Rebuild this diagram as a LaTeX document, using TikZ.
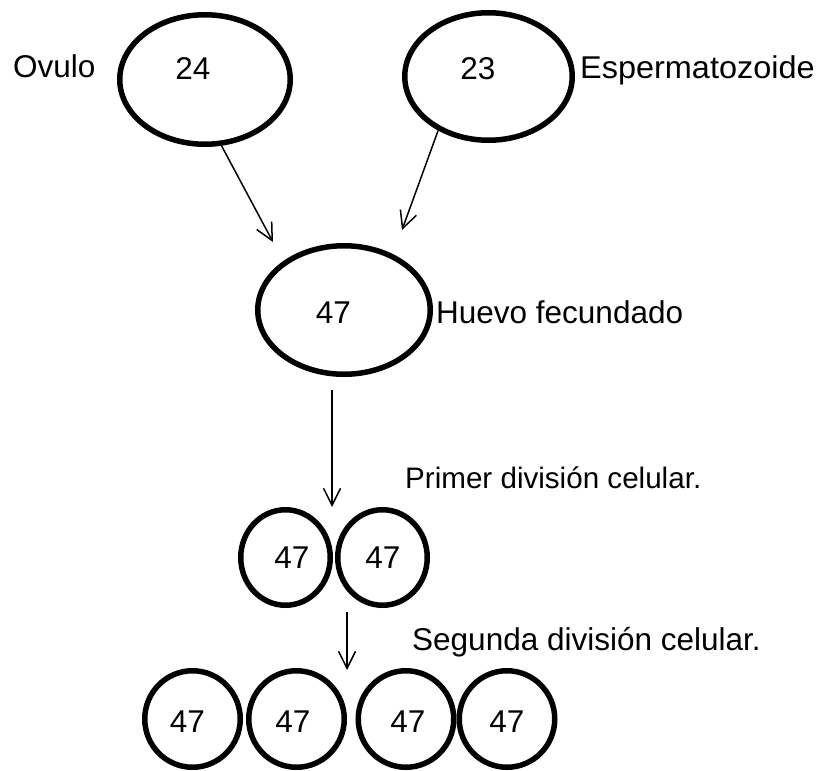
\documentclass[tikz,border=0pt]{standalone}
\usepackage{fontspec}
\setmainfont{Liberation Sans}
\usetikzlibrary{shapes.geometric,arrows.meta}
\begin{document}
\begin{tikzpicture}[x=1pt,y=-1pt,
  cell/.style={draw,ellipse,line width=5.5pt,inner sep=0pt},
  midcell/.style={cell,minimum width=89.5pt,minimum height=95.5pt},
  smallcell/.style={cell,minimum width=95.5pt,minimum height=96.5pt},
  num/.style={inner sep=0pt,font=\fontsize{31.5}{38}\selectfont},
  lbl/.style={inner sep=0pt,anchor=base west,font=\fontsize{31.5}{38}\selectfont},
  arr/.style={line width=1.5pt,-{Straight Barb[length=17pt,width=17pt]}}]
\useasboundingbox (0,0) rectangle (820,771);
% top cells
\node[cell,minimum width=170.5pt,minimum height=129.5pt] (ovulo) at (205,79.5) {};
\node[cell,minimum width=167.5pt,minimum height=127.5pt] (esperma) at (488.5,76.5) {};
\node[num] (n24) at (193,69) {24};
\node[num] (n23) at (478,69) {23};
\node[lbl] (lovulo) at (13,77) {Ovulo};
\node[lbl] (lesperma) at (580,78) {\scalebox{1.03}[1]{Espermatozoide}};
% fertilised egg
\node[cell,minimum width=172.5pt,minimum height=128.5pt] (huevo) at (344,310) {};
\node[num] (n47) at (333.5,312.5) {47};
\node[lbl] (lhuevo) at (436,323) {Huevo fecundado};
% first division
\node[midcell] (d1) at (285.5,557.5) {};
\node[midcell] (d2) at (382.5,557.5) {};
\node[num] (nd1) at (292,558) {47};
\node[num] (nd2) at (383,558) {47};
\node[lbl,font=\fontsize{29.6}{36}\selectfont] (lprimer) at (405,488) {Primer división celular.};
% second division
\node[smallcell] (e1) at (192.5,719) {};
\node[smallcell] (e2) at (296.5,719) {};
\node[smallcell] (e3) at (406,719) {};
\node[smallcell] (e4) at (507,719) {};
\node[num] (ne1) at (187.5,722) {47};
\node[num] (ne2) at (293,722) {47};
\node[num] (ne3) at (408,722) {47};
\node[num] (ne4) at (507,722) {47};
\node[lbl] (lsegunda) at (412,650) {Segunda división celular.};
% arrow ends
\coordinate (t1) at (273,242);
\coordinate (t2) at (402,230);
\coordinate (t3) at (332,507);
\coordinate (t4) at (347,670);
\draw[arr] (ovulo.-76) -- (t1);
\draw[arr] (esperma.-133) -- (t2);
\draw[arr] ([xshift=-12pt,yshift=-13pt]huevo.south) -- (t3);
\draw[arr] ([xshift=-35.5pt,yshift=-4pt]d2.south) -- (t4);
\end{tikzpicture}
\end{document}
